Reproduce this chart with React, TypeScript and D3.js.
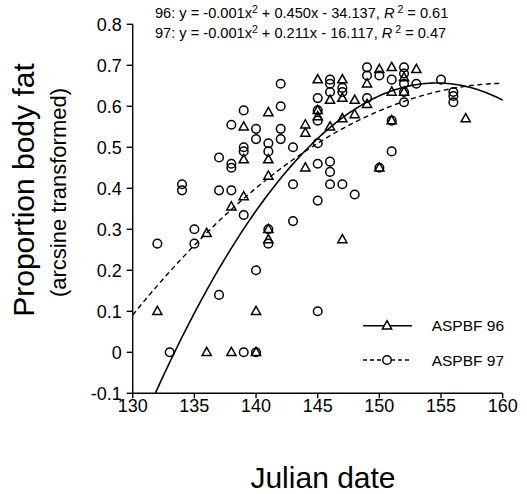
import React from "react";
import * as d3 from "d3";

// ---- data ----
const yTicks = [-0.1, 0, 0.1, 0.2, 0.3, 0.4, 0.5, 0.6, 0.7, 0.8];
const yTickLabels = ["-0.1", "0", "0.1", "0.2", "0.3", "0.4", "0.5", "0.6", "0.7", "0.8"];
const xTicks = [130, 135, 140, 145, 150, 155, 160];

// ASPBF 96 (triangles): [julian date, proportion]
const aspbf96: [number, number][] = [
  [132, 0.1], [136, 0.29], [136, 0.0], [138, 0.355], [138, 0.0],
  [139, 0.55], [139, 0.47], [139, 0.38], [140, 0.1], [140, 0.0],
  [141, 0.585], [141, 0.47], [141, 0.43], [141, 0.3], [141, 0.275],
  [144, 0.555], [144, 0.535], [144, 0.45],
  [145, 0.665], [145, 0.59], [145, 0.575],
  [146, 0.615], [146, 0.55],
  [147, 0.665], [147, 0.62], [147, 0.57], [147, 0.275],
  [148, 0.615], [148, 0.58],
  [149, 0.655], [149, 0.605],
  [150, 0.69], [150, 0.45],
  [151, 0.695], [151, 0.635], [151, 0.565],
  [152, 0.67], [152, 0.635],
  [153, 0.69], [157, 0.57],
];

// ASPBF 97 (circles)
const aspbf97: [number, number][] = [
  [132, 0.265], [133, 0.0], [134, 0.41], [134, 0.395], [135, 0.3], [135, 0.265],
  [137, 0.475], [137, 0.395], [137, 0.14],
  [138, 0.555], [138, 0.46], [138, 0.45], [138, 0.395],
  [139, 0.59], [139, 0.5], [139, 0.49], [139, 0.335], [139, 0.0],
  [140, 0.545], [140, 0.52], [140, 0.2], [140, 0.0],
  [141, 0.51], [141, 0.49], [141, 0.3], [141, 0.265],
  [142, 0.655], [142, 0.6], [142, 0.545], [142, 0.52],
  [143, 0.5], [143, 0.41], [143, 0.32],
  [145, 0.62], [145, 0.59], [145, 0.565], [145, 0.51], [145, 0.46], [145, 0.37], [145, 0.1],
  [146, 0.665], [146, 0.655], [146, 0.635], [146, 0.465], [146, 0.44], [146, 0.41],
  [147, 0.645], [147, 0.635], [147, 0.41], [148, 0.385],
  [149, 0.695], [149, 0.675], [149, 0.62],
  [150, 0.675], [150, 0.45],
  [151, 0.665], [151, 0.565], [151, 0.49],
  [152, 0.695], [152, 0.68], [152, 0.655], [152, 0.635], [152, 0.61],
  [153, 0.655], [155, 0.665],
  [156, 0.635], [156, 0.625], [156, 0.61],
];

// quadratic fit coefficients [a, b, c] as drawn
const fit96 = [-0.001455, 0.45, -34.137];
const fit97 = [-0.000606, 0.19458, -14.963];

const W = 527, H = 494;
const FONT = "'Liberation Sans', Arial, Helvetica, sans-serif";

export default function App() {
  const x = d3.scaleLinear().domain([130, 160]).range([132.7, 502.7]);
  const y = d3.scaleLinear().domain([-0.1, 0.8]).range([393.3, 24.3]);

  const quad = (c: number[]) => (t: number) => c[0] * t * t + c[1] * t + c[2];
  const f96 = quad(fit96);
  const f97 = quad(fit97);
  // start of solid curve where it crosses the bottom of the axis
  const a = fit96[0], b = fit96[1], cc = fit96[2] + 0.1;
  const x0_96 = (-b + Math.sqrt(b * b - 4 * a * cc)) / (2 * a);
  const xs96 = d3.range(0, 201).map((i) => x0_96 + (160 - x0_96) * (i / 200));
  const xs97 = d3.range(0, 201).map((i) => 130 + 30 * (i / 200));
  const path96 = d3.line<number>().x((d) => x(d)).y((d) => y(f96(d)))(xs96) || "";
  const path97 = d3.line<number>().x((d) => x(d)).y((d) => y(f97(d)))(xs97) || "";

  const tri = (cx: number, cy: number) =>
    `M${cx},${cy - 5}L${cx + 4.6},${cy + 3.2}L${cx - 4.6},${cy + 3.2}Z`;

  return (
    <svg width={W} height={H} style={{ position: "absolute", left: 0, top: 0, background: "#fff" }}
      fontFamily={FONT}>
      <rect width={W} height={H} fill="#fff" />
      {/* equations */}
      <text x={155} y={18} fontSize={14.6}>
        96: y =  -0.001x<tspan dy={-5} fontSize={10.5}>2</tspan><tspan dy={5}> + 0.450x - 34.137,  </tspan>
        <tspan fontStyle="italic">R</tspan><tspan dy={-5} fontSize={10.5}> 2</tspan><tspan dy={5}> = 0.61</tspan>
      </text>
      <text x={155} y={37.5} fontSize={14.6}>
        97: y =  -0.001x<tspan dy={-5} fontSize={10.5}>2</tspan><tspan dy={5}> + 0.211x - 16.117,  </tspan>
        <tspan fontStyle="italic">R</tspan><tspan dy={-5} fontSize={10.5}> 2</tspan><tspan dy={5}> = 0.47</tspan>
      </text>

      {/* axes */}
      <g stroke="#000" strokeWidth={1.4} fill="none">
        <line x1={x(130)} x2={x(130)} y1={y(0.8)} y2={y(-0.1)} />
        <line x1={x(130)} x2={x(160)} y1={y(-0.1)} y2={y(-0.1)} />
        {yTicks.map((t) => (
          <line key={"yt" + t} x1={x(130) - 6} x2={x(130)} y1={y(t)} y2={y(t)} />
        ))}
        {xTicks.map((t) => (
          <line key={"xt" + t} x1={x(t)} x2={x(t)} y1={y(-0.1)} y2={y(-0.1) + 5} />
        ))}
      </g>
      <g fontSize={18} fill="#000">
        {yTicks.map((t, i) => (
          <text key={"yl" + t} x={x(130) - 11} y={y(t) + 6.4} textAnchor="end">{yTickLabels[i]}</text>
        ))}
        {xTicks.map((t) => (
          <text key={"xl" + t} x={x(t)} y={411.7} textAnchor="middle">{t}</text>
        ))}
      </g>

      {/* axis titles */}
      <text x={323} y={488} fontSize={30} textAnchor="middle">Julian date</text>
      <text transform="translate(34,190) rotate(-90)" fontSize={30} textAnchor="middle">Proportion body fat</text>
      <text transform="translate(66,192.5) rotate(-90)" fontSize={22} textAnchor="middle">(arcsine transformed)</text>

      {/* fits */}
      <path d={path96} fill="none" stroke="#000" strokeWidth={1.6} />
      <path d={path97} fill="none" stroke="#000" strokeWidth={1.4} strokeDasharray="5,3.5" />

      {/* points */}
      <g fill="none" stroke="#000" strokeWidth={1.5}>
        {aspbf97.map((d, i) => (
          <circle key={"c" + i} cx={x(d[0])} cy={y(d[1])} r={4.3} />
        ))}
        {aspbf96.map((d, i) => (
          <path key={"t" + i} d={tri(x(d[0]), y(d[1]))} />
        ))}
      </g>

      {/* legend */}
      <g stroke="#000" fill="none">
        <line x1={363} x2={412} y1={325.7} y2={325.7} strokeWidth={1.4} />
        <path d={tri(387, 325.7)} strokeWidth={1.5} fill="#fff" />
        <line x1={363} x2={412} y1={360} y2={360} strokeWidth={1.3} strokeDasharray="4,3" />
        <circle cx={387} cy={360} r={4.3} strokeWidth={1.5} fill="#fff" />
      </g>
      <g fontSize={15.5} fill="#000">
        <text x={431.7} y={331.3}>ASPBF 96</text>
        <text x={431.7} y={365.6}>ASPBF 97</text>
      </g>
    </svg>
  );
}
